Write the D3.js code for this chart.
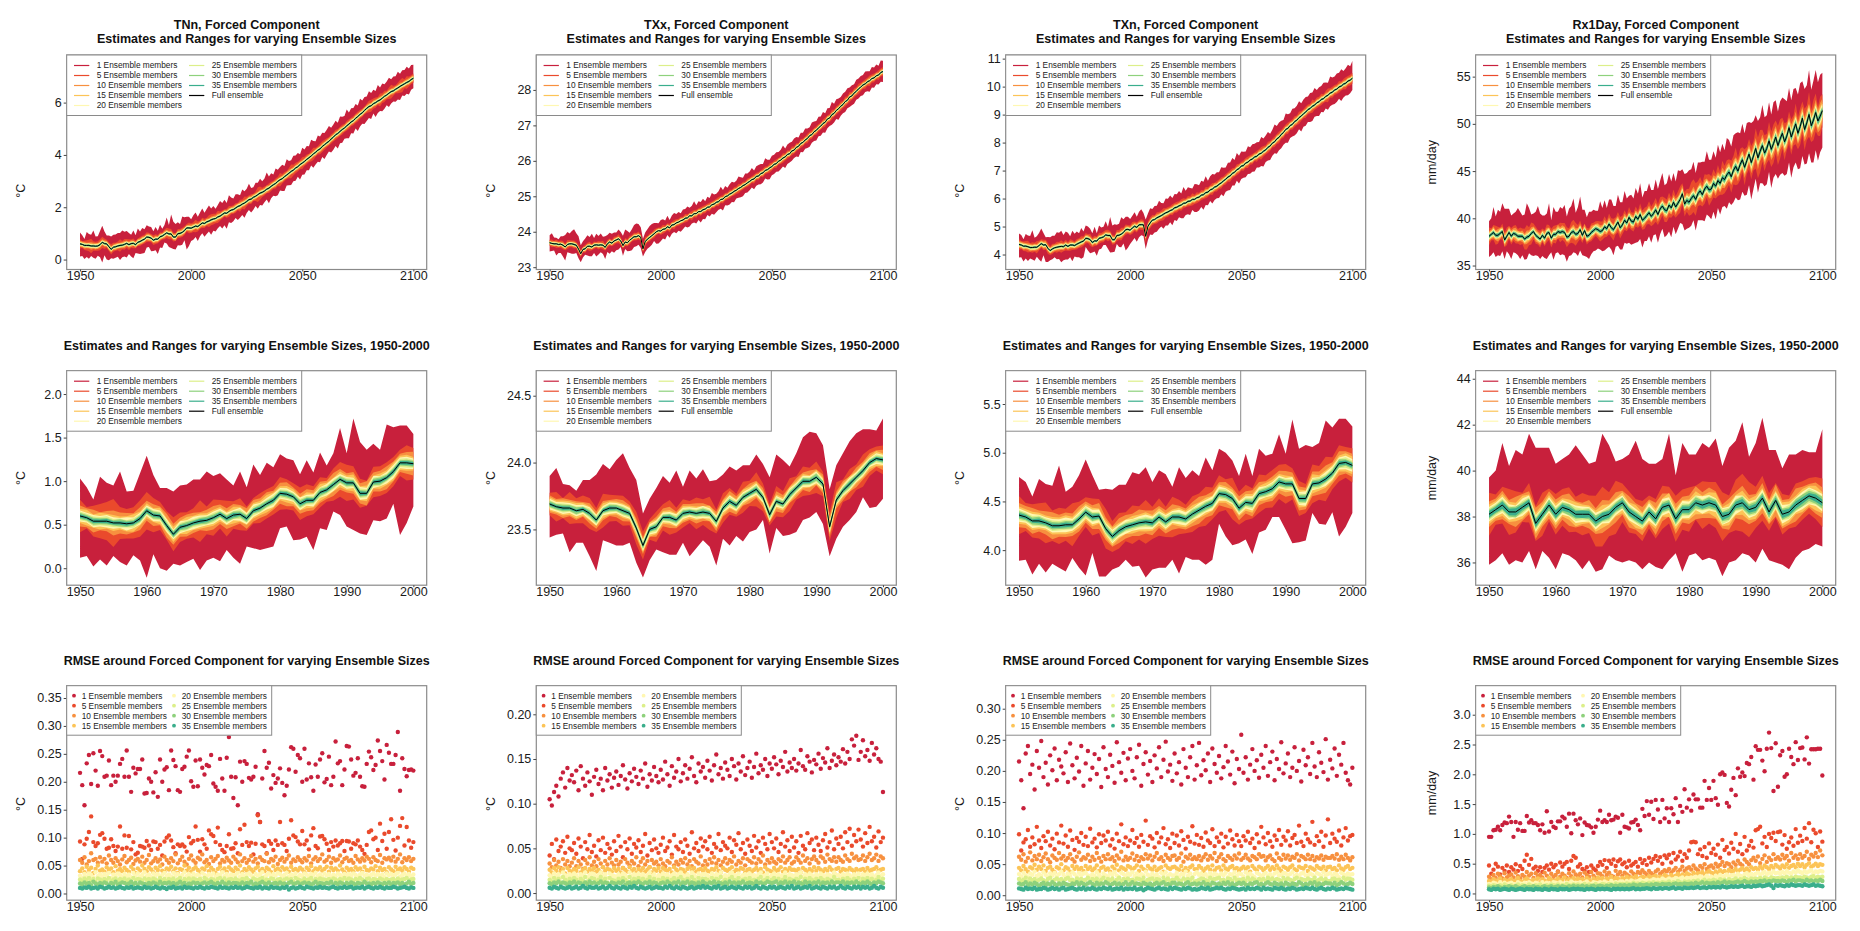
<!DOCTYPE html>
<html>
<head>
<meta charset="utf-8">
<script src="https://cdn.jsdelivr.net/npm/d3@7"></script>
<style>
  body { margin: 0; background: #fff; }
  svg text { font-family: "Liberation Sans", Arial, sans-serif; }
</style>
</head>
<body>
<svg id="chart" width="1860" height="931"></svg>
<script>
// ---------- categories / ticks ----------
const years = d3.range(1950, 2101);
const sizes = [1, 5, 10, 15, 20, 25, 30, 35];
const sizeColors = ["#c8203c", "#ea4a2c", "#f7903f", "#fcc457", "#fff7b2", "#dcef8a", "#8ed17c", "#3aae8c"];
const bandFactor = 2; // range of n-member estimates ~ +/- 2 RMSE
const xTicksFull = [1950, 2000, 2050, 2100];
const xTicksZoom = [1950, 1960, 1970, 1980, 1990, 2000];

// ---------- TNn (mean/up/lo in 0.01 °C, rmse in 0.001 °C) ----------
const tnnMean = [60,58,54,54,54,52,52,51,52,57, 66,61,60,49,39,47,49,52,54,55, 58,62,57,61,62,57,66,69,74,78,
  86,85,82,74,78,78,87,90,96,102, 98,98,86,86,99,100,104,111,121,121, 120,
  124,128,126,133,140,138,144,147,152,155, 157,163,166,172,178,177,184,189,191,197, 203,206,212,216,222,229,231,238,242,248,
  254,257,262,269,273,280,286,291,299,305, 309,317,323,330,337,342,350,355,363,369, 375,383,389,396,404,410,418,423,432,439,
  446,452,461,468,477,482,490,497,503,511, 518,526,531,540,547,555,561,570,578,585, 588,596,600,606,610,617,624,629,636,642,
  645,651,656,662,667,672,677,681,688,693];
const tnnUp1 = [43,35,25,51,44,43,59,37,37,52, 63,46,32,43,49,48,47,50,48,56, 48,47,45,34,49,36,53,38,47,38,
  45,41,42,34,46,32,46,28,36,59, 34,74,59,50,44,36,61,51,43,43, 34,
  45,52,38,47,55,41,49,60,43,50, 37,46,58,44,51,39,62,48,42,53, 47,40,56,45,49,61,43,38,52,46, 55,42,48,64,45,50,39,57,44,49,
  53,41,60,47,43,55,48,52,40,58, 46,51,44,62,49,42,56,47,53,45, 50,59,43,48,54,41,57,49,46,63, 44,52,48,55,42,60,47,51,45,58,
  49,53,44,61,48,56,46,52,59,47, 55,50,62,48,57,53,60,49,56,52];
const tnnLo1 = [48,44,52,44,51,38,45,48,37,48, 77,45,60,52,34,44,42,41,56,46, 46,54,36,49,57,32,43,48,51,53,
  40,37,50,41,42,57,41,46,31,41, 50,54,46,48,44,46,47,37,83,69, 49,
  48,42,55,44,39,51,46,40,57,45, 50,43,38,53,47,59,41,49,45,38, 52,46,42,56,44,40,51,48,37,54, 45,50,43,39,58,46,42,49,53,41,
  47,55,40,46,52,43,49,38,57,45, 50,42,48,36,53,47,44,51,40,55, 46,39,52,48,43,57,45,50,41,47, 54,43,49,39,56,46,42,52,48,44,
  51,38,55,46,42,50,47,39,53,45, 41,48,44,52,40,47,43,50,39,38];
const tnnRmse1 = [216,194,158,233,248,196,251,220,193,255, 246,209,211,238,194,211,200,211,232,241, 209,256,209,182,225,215,223,223,240,179,
  180,206,200,181,217,173,240,200,222,226, 185,256,239,228,185,182,223,227,245,256, 201,191,238,192,240,225,213,230,228,248,
  197,191,184,241,206,184,243,280,209,171, 208,158,236,200,237,232,207,204,209,227, 142,128,206,255,225,234,188,212,198,206,
  224,198,176,193,222,262,259,218,248,242, 200,259,204,233,208,184,231,209,240,251, 199,205,245,194,209,272,233,237,194,222,
  264,263,240,211,216,242,209,192,191,232, 254,244,221,230,274,255,237,204,266,252, 232,232,248,289,184,242,223,210,221,222, 220];
const tnnRmse5 = [93,62,88,98,110,138,92,85,90,105, 108,98,80,82,97,85,76,84,120,80, 104,82,103,79,92,70,73,85,84,82,
  94,86,78,93,92,80,87,68,93,100, 104,95,83,72,88,85,88,84,75,101, 90,94,120,96,75,97,88,80,113,106,
  103,92,118,87,78,74,85,106,80,81, 90,72,115,87,123,92,85,91,70,89, 140,128,88,85,72,94,89,78,95,87,
  128,90,87,76,98,131,104,101,93,88, 112,88,95,79,104,117,85,81,102,103, 97,89,78,92,84,95,86,90,94,76,
  94,93,80,90,88,95,84,78,71,87, 110,113,97,100,78,125,94,107,80,110, 133,96,77,100,121,135,86,119,95,82, 92];
const tnnRmse10 = [60,55,65,52,58,72,60,62,55,65, 57,62,54,68,60,55,63,58,52,61, 67,56,60,64,53,59,62,57,66,55,
  60,69,54,58,63,57,61,52,66,60, 55,63,58,70,54,60,66,57,52,62, 68,59,55,64,61,70,56,60,53,65,
  58,62,67,54,60,57,64,59,55,66, 61,56,70,58,63,55,60,67,57,62, 54,65,60,58,71,56,62,59,66,53,
  60,64,57,62,68,55,61,58,65,60, 56,63,59,67,54,61,65,58,62,70, 57,60,66,55,63,59,61,68,56,62,
  64,58,60,55,67,61,57,63,59,66, 62,56,65,60,58,69,55,63,61,64, 59,66,57,62,70,56,63,60,65,58, 62];
const tnnRmse15 = [40,45,38,48,42,46,37,44,50,41, 43,39,47,42,45,38,49,41,44,40, 46,42,39,48,43,37,45,41,50,44,
  40,47,43,38,46,42,49,41,39,45, 43,48,40,45,37,44,42,50,41,46, 39,44,47,42,38,45,43,49,40,46,
  42,37,44,48,41,45,39,47,43,40, 46,42,50,38,44,41,47,43,39,45, 48,41,44,40,46,43,38,49,42,45,
  40,47,43,45,39,48,42,44,41,46, 43,38,46,42,49,40,45,43,47,41, 44,48,39,46,42,45,41,50,43,38,
  46,42,44,40,47,43,45,39,48,42, 41,45,43,49,40,46,42,44,38,47, 43,40,48,42,45,41,47,44,39,46, 44];
const tnnRmse20 = [32,28,35,30,36,33,29,38,31,34, 30,35,32,37,28,34,31,36,33,29, 35,31,34,29,37,32,36,30,33,38,
  31,34,29,36,32,35,30,33,37,31, 34,30,37,32,35,29,33,38,31,35, 30,36,32,34,29,37,33,31,35,32,
  36,30,34,33,38,31,35,29,34,32, 33,37,30,35,31,34,36,32,29,35, 32,34,38,30,33,36,31,35,32,37,
  35,31,33,37,30,34,32,36,29,33, 31,36,34,30,35,33,37,31,34,30, 36,32,35,29,34,31,36,33,30,35,
  32,35,31,36,33,30,34,37,32,34, 30,33,36,32,35,31,34,29,36,33, 35,31,34,37,30,33,36,32,35,31, 34];
const tnnRmse25 = [25,22,27,24,28,23,26,21,27,25, 23,26,24,28,22,25,27,23,26,24, 27,23,25,22,28,24,26,25,23,27,
  24,26,22,27,25,23,28,24,26,22, 26,24,27,23,25,28,22,26,24,27, 23,27,25,24,26,22,28,25,23,26,
  25,22,26,28,24,27,23,25,26,24, 27,24,23,26,25,28,24,22,27,25, 24,26,28,23,25,24,27,26,22,25,
  26,23,25,27,24,26,22,28,25,24, 23,27,24,25,28,23,26,24,27,25, 25,24,26,22,27,25,23,26,24,28,
  24,27,25,23,26,24,28,25,22,26, 27,23,26,25,24,27,25,23,26,24, 25,26,23,27,24,25,26,28,24,25, 26];
const tnnRmse30 = [18,16,20,17,19,15,21,18,16,19, 17,20,18,15,19,17,21,16,18,20, 19,16,18,21,17,19,15,20,18,17,
  16,19,17,20,18,16,21,17,19,18, 20,17,19,16,18,21,17,19,15,18, 17,20,18,19,16,18,20,17,19,21,
  18,16,19,17,21,18,16,20,17,19, 19,18,16,20,17,19,18,21,16,18, 16,19,21,18,17,20,16,18,19,17,
  20,17,18,16,19,21,17,18,20,16, 18,20,17,19,16,18,21,17,19,18, 17,19,18,21,16,19,17,20,18,16,
  19,17,20,18,16,19,18,17,21,18, 18,16,19,17,20,18,16,19,17,20, 16,19,18,20,17,19,16,18,21,17, 19];
const tnnRmse35 = [10,9,11,10,12,9,10,11,9,12, 11,9,10,12,10,11,9,10,12,10, 9,11,10,12,9,10,11,10,9,12,
  10,11,9,10,12,10,9,11,10,8, 11,10,12,9,10,11,9,12,10,11, 10,9,11,10,12,10,9,11,10,12,
  11,10,9,12,10,11,10,9,11,10, 12,10,11,9,10,12,11,10,9,11, 10,12,9,11,10,9,12,10,11,10,
  9,11,10,12,7,10,11,9,10,12, 10,9,12,11,10,9,11,10,12,10, 11,10,9,11,12,10,9,11,10,12,
  10,11,12,9,10,11,10,12,9,11, 12,10,9,11,10,12,10,9,11,10, 10,12,11,9,10,11,12,10,9,11, 10];

// ---------- TXx (mean/up/lo in 0.01 °C, rmse in 0.001 °C) ----------
const txxMean = [2369,2367,2366,2366,2364,2365,2362,2357,2364,2366, 2366,2364,2362,2351,2338,2350,2352,2359,2359,2357,
  2362,2363,2362,2363,2362,2356,2366,2371,2368,2374, 2377,2380,2374,2361,2371,2369,2376,2381,2386,2386,
  2389,2384,2352,2372,2379,2384,2389,2394,2400,2403, 2402,
  2407,2408,2414,2411,2419,2420,2425,2427,2431,2433, 2438,2439,2445,2445,2451,2451,2457,2457,2462,2464,
  2469,2470,2476,2478,2483,2485,2491,2492,2499,2501, 2506,2509,2514,2517,2522,2525,2530,2533,2538,2542,
  2547,2549,2556,2557,2564,2566,2573,2575,2580,2584, 2590,2592,2599,2602,2608,2611,2618,2620,2628,2630,
  2638,2641,2649,2652,2659,2663,2671,2674,2682,2686, 2693,2698,2705,2709,2718,2721,2730,2734,2742,2747,
  2754,2759,2767,2771,2780,2783,2791,2796,2803,2808, 2814,2817,2823,2826,2832,2834,2840,2842,2849,2852];
const txxUp1 = [21,29,18,17,15,22,25,34,35,29, 36,43,34,36,24,23,29,31,26,37, 20,31,26,32,24,31,25,26,26,24,
  21,26,25,28,35,33,21,26,33,37, 33,29,28,26,28,32,33,31,25,21, 31,
  28,24,31,22,27,33,25,29,21,30, 26,32,23,28,35,24,29,27,31,22, 30,25,33,27,24,29,36,26,30,23, 28,32,25,27,34,29,22,31,26,28,
  33,24,29,31,27,25,34,28,23,30, 27,32,26,29,35,24,28,31,26,33, 29,25,30,27,32,28,24,34,29,26, 31,27,33,25,30,28,36,27,32,29,
  26,31,28,34,27,30,25,33,29,31, 28,35,30,27,33,29,32,26,34,30];
const txxLo1 = [25,21,19,33,24,25,32,38,22,26, 28,26,22,26,24,23,17,26,28,26, 22,33,26,21,25,33,23,33,23,33,
  29,30,17,29,20,24,30,33,29,27, 26,30,22,29,27,27,26,20,34,36, 29,
  26,30,23,28,25,21,29,24,31,26, 23,27,30,22,25,28,24,31,26,29, 22,27,25,30,28,23,26,32,24,27, 29,25,31,23,26,28,30,24,27,25,
  22,29,26,24,30,27,23,28,32,25, 27,23,29,26,24,31,27,25,28,22, 26,30,24,28,25,27,31,23,26,29, 24,27,25,30,26,23,28,26,24,31,
  27,25,29,23,28,26,30,24,27,25, 29,23,27,31,25,28,24,27,26,30];
const txxRmse1 = [105,98,113,120,108,128,135,118,140,126, 132,124,137,115,142,128,120,135,125,110, 130,138,122,128,115,140,126,133,118,129,
  136,121,131,143,127,117,134,125,139,130, 122,137,128,145,119,133,126,141,131,124, 138,127,147,133,120,142,129,136,150,125,
  134,143,128,139,152,131,124,145,136,141, 129,148,137,126,143,155,133,140,128,146, 138,131,150,142,127,145,136,153,132,140,
  147,129,141,156,134,143,138,150,131,145, 139,152,144,133,148,141,158,136,146,140, 150,137,145,160,142,138,153,147,135,149,
  144,156,139,151,146,162,140,148,155,143, 152,147,161,145,158,150,172,165,176,149, 158,171,153,160,148,168,155,162,150,147, 113];
const txxRmse5 = [42,55,38,60,47,52,58,45,63,50, 48,56,44,61,52,39,57,49,65,46, 53,41,59,48,62,45,55,50,43,58,
  47,64,52,40,57,49,61,44,55,51, 59,46,53,66,42,56,48,60,50,45, 54,62,47,51,58,43,65,52,49,57,
  46,60,53,44,68,50,56,47,61,52, 58,49,63,45,55,51,66,48,57,53, 50,62,46,59,54,67,49,56,44,60,
  53,47,64,51,58,45,62,55,49,66, 57,50,61,46,55,68,52,59,47,63, 51,58,45,64,53,49,67,56,60,48,
  62,54,47,59,66,51,57,70,49,61, 55,63,50,68,57,72,53,65,58,71, 60,52,67,56,74,58,63,51,69,57, 62];
const txxRmse10 = [33,29,37,31,35,28,38,32,36,30, 34,39,30,36,32,27,37,33,40,31, 35,30,38,33,29,36,32,39,34,31,
  37,32,35,28,38,34,31,36,33,40, 30,35,39,32,36,29,37,33,35,31, 38,33,30,36,34,40,31,35,32,37,
  34,39,32,36,30,38,35,33,41,31, 36,32,38,34,40,33,37,31,35,39, 33,37,35,41,32,36,34,39,31,38,
  36,34,40,33,38,35,42,32,37,34, 39,35,33,38,36,41,34,37,40,33, 35,40,37,34,42,36,39,33,38,41,
  37,34,41,39,35,43,38,36,40,35, 40,37,35,42,38,36,44,39,41,37, 38,42,36,40,44,37,39,43,36,41, 39];
const txxRmse15 = [26,23,28,25,29,24,27,22,28,25, 24,27,25,29,23,26,28,24,27,25, 28,24,26,23,29,25,27,26,24,28,
  25,27,23,28,26,24,29,25,27,23, 27,25,28,24,26,29,23,27,25,28, 24,28,26,25,27,23,29,26,24,27,
  26,23,27,29,25,28,24,26,27,25, 28,25,24,27,26,29,25,23,28,26, 25,27,29,24,26,25,28,27,23,26,
  27,24,26,28,25,27,23,29,26,25, 24,28,25,26,29,24,27,25,28,26, 26,25,27,23,28,26,24,27,25,29,
  25,28,26,24,27,25,29,26,23,27, 28,24,27,26,25,28,26,24,27,25, 26,27,24,28,25,26,27,29,25,26, 27];
const txxRmse20 = [20,18,22,19,21,17,23,20,18,21, 19,22,20,17,21,19,23,18,20,22, 21,18,20,23,19,21,17,22,20,19,
  18,21,19,22,20,18,23,19,21,20, 22,19,21,18,20,23,19,21,17,20, 19,22,20,21,18,20,22,19,21,23,
  20,18,21,19,23,20,18,22,19,21, 21,20,18,22,19,21,20,23,18,20, 18,21,23,20,19,22,18,20,21,19,
  22,19,20,18,21,23,19,20,22,18, 20,22,19,21,18,20,23,19,21,20, 19,21,20,23,18,21,19,22,20,18,
  21,19,22,20,18,21,20,19,23,20, 20,18,21,19,22,20,18,21,19,22, 18,21,20,22,19,21,18,20,23,19, 21];
const txxRmse25 = [15,13,17,14,16,12,18,15,13,16, 14,17,15,12,16,14,18,13,15,17, 16,13,15,18,14,16,12,17,15,14,
  13,16,14,17,15,13,18,14,16,15, 17,14,16,13,15,18,14,16,12,15, 14,17,15,16,13,15,17,14,16,18,
  15,13,16,14,18,15,13,17,14,16, 16,15,13,17,14,16,15,18,13,15, 13,16,18,15,14,17,13,15,16,14,
  17,14,15,13,16,18,14,15,17,13, 15,17,14,16,13,15,18,14,16,15, 14,16,15,18,13,16,14,17,15,13,
  16,14,17,15,13,16,15,14,18,15, 15,13,16,14,17,15,13,16,14,17, 13,16,15,17,14,16,13,15,18,14, 16];
const txxRmse30 = [11,10,12,11,13,10,12,11,9,12, 11,13,10,12,11,9,12,10,13,11, 12,10,11,13,10,12,11,9,12,11,
  10,12,11,13,9,11,12,10,12,11, 13,11,10,12,11,13,10,12,11,9, 11,12,10,13,11,10,12,11,13,10,
  12,11,13,10,12,11,9,12,10,13, 11,10,12,11,13,10,12,11,10,12, 10,13,11,12,10,12,11,13,10,11,
  12,11,10,13,11,12,10,11,13,12, 11,12,13,10,12,11,13,10,12,11, 13,10,12,11,10,13,11,12,10,12,
  11,13,10,12,11,12,10,13,11,12, 12,11,13,10,12,11,12,10,13,11, 10,12,11,13,11,10,12,11,13,12, 11];
const txxRmse35 = [6,5,7,6,5,7,6,5,6,7, 5,6,7,5,6,8,6,5,7,6, 6,7,5,6,7,5,6,8,6,5,
  7,6,5,7,6,5,7,6,8,6, 5,7,6,5,6,7,5,6,7,6, 6,5,7,6,8,6,5,7,6,5,
  7,6,5,6,7,5,6,7,6,8, 6,7,6,5,7,6,8,5,6,7, 5,6,7,6,5,7,6,5,7,6,
  7,5,6,8,6,5,7,6,5,7, 6,7,5,6,7,6,5,7,6,8, 5,6,7,5,6,7,6,8,5,6,
  7,6,5,7,6,5,7,6,7,5, 6,8,6,5,7,6,5,7,6,7, 5,7,6,7,5,6,8,6,5,7, 6];

// ---------- TXn (mean/up/lo in 0.01 °C, rmse in 0.001 °C) ----------
const txnMean = [436,434,430,430,428,425,425,426,426,432, 439,434,435,422,414,420,424,426,428,429,
  428,434,429,434,434,432,437,441,445,448, 458,457,453,443,449,448,458,460,463,470,
  468,468,453,453,468,469,473,479,489,490, 487,
  495,501,497,506,507,506,465,501,513,523, 525,531,535,539,544,549,552,557,560,567,
  569,574,577,583,584,590,591,597,597,603, 605,612,614,621,623,631,634,641,644,651,
  656,663,669,677,681,690,694,703,707,716, 718,727,730,738,741,749,751,759,762,769,
  774,783,788,798,803,813,819,829,836,847, 851,861,865,875,880,889,895,903,909,918,
  922,930,934,942,946,954,957,965,969,977, 980,988,991,999,1002,1009,1012,1020,1023,1030];
const txnUp1 = [39,36,25,43,40,41,62,34,39,45, 54,43,27,41,48,47,43,54,50,56, 42,48,49,31,51,42,45,35,50,34,
  46,43,39,33,50,28,46,37,36,49, 31,66,51,55,38,41,60,47,46,45, 40,
  44,50,38,47,55,42,60,46,52,40, 48,43,57,45,39,51,47,54,42,49, 46,53,41,58,44,50,47,39,55,48, 43,52,46,59,41,49,54,45,50,43,
  56,47,42,51,48,55,44,60,46,52, 49,41,57,45,53,47,50,43,58,46, 51,55,44,48,62,46,53,49,45,57, 50,44,56,48,52,59,46,51,54,47,
  55,49,61,46,52,48,57,50,45,59, 53,48,56,51,60,47,54,58,50,62];
const txnLo1 = [47,44,55,44,51,39,43,48,34,50, 65,37,62,49,34,37,34,43,44,57, 48,52,47,44,58,39,47,51,60,58,
  31,43,48,36,38,52,40,39,29,36, 47,61,45,43,30,42,47,40,75,66, 49,
  47,42,51,44,38,40,45,49,41,53, 46,50,43,39,52,45,48,42,55,44, 49,41,47,53,43,46,50,38,45,51, 48,42,54,44,47,40,52,46,43,49,
  41,55,45,48,50,43,47,39,53,46, 44,51,42,49,45,52,40,48,46,54, 43,47,50,45,41,53,46,49,44,48, 52,45,43,50,47,41,55,46,49,44,
  48,53,42,47,51,45,49,43,52,47, 45,50,46,42,53,48,44,51,47,42];
const txnRmse1 = [215,185,140,228,240,195,210,170,232,205, 248,190,213,178,225,201,236,185,218,207, 196,230,182,244,209,188,221,199,240,176,
  212,232,186,205,227,195,219,174,238,203, 190,226,208,181,246,214,197,229,185,220, 235,200,188,222,242,176,211,230,194,216,
  182,225,204,238,190,218,247,199,210,184, 228,196,214,178,235,205,190,222,240,186, 209,245,193,217,201,228,182,236,211,197,
  224,188,206,240,215,194,231,180,219,203, 258,197,222,186,210,235,200,217,189,226, 205,240,192,214,231,185,219,203,246,196,
  212,228,190,205,238,200,216,183,234,209, 222,195,245,207,190,230,213,198,251,186, 218,204,236,192,226,210,245,197,185,178, 205];
const txnRmse5 = [98,72,85,90,105,78,93,82,110,88, 76,95,87,102,80,91,74,99,85,112, 83,96,78,104,89,73,92,86,100,81,
  94,79,107,85,91,77,98,84,96,88, 102,80,90,75,99,87,114,82,93,79, 88,105,84,92,78,97,86,120,81,95,
  91,77,100,85,93,108,82,90,76,99, 84,96,80,103,89,75,94,86,111,83, 97,81,92,78,101,88,84,106,79,93,
  86,99,77,94,83,104,90,80,97,87, 79,95,88,102,84,91,76,98,85,110, 93,82,100,87,78,96,89,105,81,94,
  88,103,80,92,97,84,112,86,79,99, 90,85,118,81,95,87,102,78,96,122, 84,99,91,86,104,80,93,108,88,95, 97];
const txnRmse10 = [62,57,66,54,60,69,56,63,58,65, 55,61,67,58,53,64,60,57,68,59, 63,56,60,66,58,54,62,69,57,61,
  59,65,55,62,57,68,60,54,63,58, 66,58,61,55,64,59,70,56,62,57, 60,67,57,63,55,61,58,66,59,64,
  56,62,68,58,61,55,65,60,57,63, 64,57,60,67,54,62,59,65,58,61, 58,63,56,61,66,57,63,59,68,55,
  61,66,58,55,63,60,57,64,59,67, 57,60,65,59,56,63,61,58,66,62, 63,56,61,64,58,55,67,60,57,65,
  59,64,57,62,60,66,56,63,61,58, 65,58,63,56,61,59,64,57,62,60, 60,63,59,66,57,62,58,65,60,56, 61];
const txnRmse15 = [44,40,47,42,38,45,43,49,41,46, 42,48,39,44,46,41,37,45,43,50, 40,45,43,38,47,42,46,41,44,39,
  47,42,45,40,43,48,39,44,46,41, 43,38,46,42,49,40,45,43,41,47, 45,41,44,48,39,46,42,40,47,43,
  41,46,40,43,45,38,48,44,42,45, 46,43,41,47,40,44,39,45,48,42, 42,47,44,39,43,46,41,48,40,44,
  45,40,48,43,41,45,47,42,44,39, 43,46,42,45,38,47,43,40,46,44, 40,44,47,41,45,42,48,43,39,46,
  44,41,45,48,42,40,46,44,43,47, 39,45,43,41,47,44,42,46,40,45, 46,42,44,40,48,43,41,45,47,42, 44];
const txnRmse20 = [34,30,36,32,29,35,33,38,31,34, 31,37,33,29,35,32,36,30,34,38, 33,29,35,31,37,34,30,36,32,35,
  36,32,30,34,31,37,33,29,35,32, 30,35,33,37,32,29,36,34,31,35, 33,37,31,35,30,34,32,38,33,30,
  35,31,34,29,36,33,37,31,34,32, 32,36,30,34,33,38,31,35,29,34, 37,33,35,31,34,30,36,32,35,33,
  31,35,32,36,29,34,33,37,31,35, 34,30,37,33,35,32,29,36,34,31, 33,36,31,34,30,35,37,32,33,36,
  35,32,34,37,31,33,30,35,36,32, 32,35,33,30,36,34,31,37,32,34, 36,31,35,33,29,36,34,32,35,33, 34];
const txnRmse25 = [26,23,25,28,22,27,24,26,23,25, 27,24,22,26,28,23,25,27,24,26, 23,26,28,24,25,22,27,25,26,24,
  25,28,23,26,24,27,22,25,28,23, 26,24,27,22,25,28,23,26,24,27, 24,25,23,27,26,24,28,22,25,26,
  27,23,26,25,22,28,24,27,23,25, 25,28,24,23,27,25,26,24,28,22, 23,25,27,26,24,23,28,25,26,27,
  28,24,25,22,27,26,23,28,24,25, 25,26,23,28,24,27,25,22,26,24, 26,23,28,25,27,24,26,25,23,28,
  24,27,25,23,26,28,22,26,25,24, 27,25,24,28,23,25,27,24,26,23, 23,26,27,24,25,22,28,25,27,26, 25];
const txnRmse30 = [19,17,18,21,16,19,17,20,18,15, 18,20,16,19,17,21,18,16,19,17, 20,18,17,16,19,18,21,17,20,18,
  17,19,21,18,16,20,17,19,18,21, 19,16,18,20,17,19,16,18,21,17, 18,21,17,19,18,16,20,18,17,19,
  16,18,20,17,19,21,17,18,16,20, 20,17,19,18,16,19,21,17,18,19, 17,19,18,21,17,18,16,20,19,17,
  19,16,20,18,21,17,19,16,18,20, 18,20,17,16,19,18,20,21,17,18, 16,19,21,18,17,20,18,17,19,16,
  20,18,16,19,18,17,21,19,16,18, 17,20,18,21,16,19,17,18,20,19, 19,17,20,16,18,21,19,17,18,20, 18];
const txnRmse35 = [11,10,9,12,10,11,10,12,9,10, 10,12,11,9,10,12,10,11,9,11, 12,9,10,11,12,10,9,11,10,12,
  9,11,10,12,10,9,11,10,12,11, 10,12,9,10,11,10,12,9,11,10, 11,10,12,9,10,11,8,10,12,11,
  10,9,11,12,10,11,10,9,12,10, 12,11,10,9,11,10,12,11,9,10, 9,10,12,11,10,12,9,10,11,12,
  11,12,10,9,11,10,12,11,10,9, 10,11,9,12,10,11,10,12,11,9, 12,10,11,10,9,12,11,10,12,10,
  9,11,10,12,11,9,10,11,10,12, 11,10,12,10,9,11,12,10,9,11, 10,12,11,9,10,11,10,12,11,10, 9];

// ---------- Rx1Day (mean/up/lo in 0.1 mm/day, rmse in 0.01 mm/day) ----------
const rxMean = [381,383,385,382,382,384,386,377,381,385, 381,384,383,381,381,381,378,380,381,384,
  386,382,380,378,382,379,384,385,379,383, 383,386,385,386,385,380,381,385,386,383,
  384,388,382,387,381,382,385,387,389,388, 386,
  387,391,389,394,390,388,392,396,390,393, 398,395,401,397,396,402,399,404,398,400,
  403,406,402,405,409,404,410,413,409,408, 414,411,417,412,416,420,426,415,419,417,
  421,424,420,426,429,425,431,434,430,431, 437,434,440,437,443,441,446,449,444,451,
  455,450,457,462,454,461,468,459,466,474, 464,471,477,469,474,482,473,479,486,477,
  484,490,481,487,496,486,493,500,490,497, 506,494,501,510,498,504,512,503,508,514];
const rxUp1 = [16,17,27,20,27,23,30,33,29,25, 22,21,24,30,26,22,26,36,30,20, 19,25,33,27,21,24,21,31,19,29,
  24,21,27,24,29,22,29,28,35,23, 28,35,27,22,20,25,22,22,19,20, 32,
  24,28,22,26,30,25,21,29,27,24, 31,26,23,28,25,30,27,33,24,29, 26,31,28,25,32,27,30,35,26,29, 33,28,31,27,35,30,26,32,29,34,
  31,36,28,33,30,35,29,37,32,31, 34,30,38,33,36,31,39,34,32,37, 35,41,33,38,36,40,34,42,37,35, 39,36,43,38,35,41,37,44,39,36,
  40,38,45,37,42,39,44,38,41,46, 39,43,40,47,38,42,45,41,44,40];
const rxLo1 = [22,22,21,23,21,24,21,20,16,23, 24,20,20,20,24,20,22,23,18,23, 26,21,20,21,22,21,27,24,15,27,
  20,22,24,24,24,26,21,24,22,20, 24,22,21,27,22,25,23,22,23,20, 19,
  22,25,21,24,23,27,22,25,23,26, 24,22,27,25,23,28,24,26,29,24, 27,25,28,23,26,30,27,24,29,26, 28,31,26,29,27,25,32,28,30,27,
  29,26,33,28,31,27,34,30,28,32, 30,35,29,33,31,28,36,32,30,34, 33,31,37,34,30,36,33,39,35,32, 37,34,40,35,38,33,41,36,39,35,
  38,42,36,40,37,43,39,41,38,44, 40,37,43,41,39,45,40,42,38,39];
const rxRmse1 = [95,95,106,107,112,106,115,119,118,129, 120,95,120,107,118,105,105,130,119,123, 118,118,115,106,116,102,138,104,120,112,
  110,121,121,129,126,112,134,101,134,123, 116,126,98,119,115,114,111,102,112,124, 139,120,123,120,132,123,124,129,127,102,
  132,112,111,109,119,120,124,115,106,142, 130,155,132,154,125,157,141,120,157,126, 143,120,143,133,160,120,147,137,175,144,
  158,139,166,158,158,144,144,189,157,177, 157,189,160,149,200,203,199,152,146,174, 194,165,210,196,203,197,219,217,229,191,
  247,241,241,223,205,243,270,244,172,252, 179,232,239,196,200,243,229,217,254,224, 244,245,225,262,218,242,242,242,243,243, 198];
const rxRmse5 = [47,33,40,50,45,32,43,38,47,36, 44,40,49,38,46,41,55,65,48,58, 42,45,38,44,36,43,47,40,50,44,
  48,37,52,45,50,53,41,55,63,60, 45,49,41,38,44,36,47,42,39,46, 53,48,56,43,55,50,57,46,54,57,
  49,52,44,55,47,50,53,45,58,51, 56,48,60,52,58,63,55,61,50,64, 59,65,52,68,57,62,70,55,66,60,
  72,86,87,86,66,74,63,78,60,84, 68,75,65,82,60,90,73,78,67,85, 75,100,70,83,66,95,72,80,88,77,
  106,108,112,84,95,78,100,93,102,88, 103,104,82,98,75,86,94,80,108,85, 97,88,110,92,118,86,107,101,78,104, 87];
const rxRmse10 = [28,24,31,26,33,29,25,34,27,30, 32,27,35,29,25,31,28,36,30,33, 26,34,29,31,27,35,30,25,33,28,
  31,36,28,33,30,26,34,29,37,32, 29,33,27,35,31,28,36,30,26,34, 33,29,37,31,35,30,28,38,32,36,
  30,35,32,29,37,33,31,36,34,39, 35,32,38,34,31,37,40,33,36,39, 37,41,35,39,43,36,40,45,38,42,
  44,40,47,42,39,46,43,49,41,45, 47,43,50,45,48,53,46,51,49,44, 52,48,55,50,47,57,53,49,56,60,
  55,62,51,58,64,53,60,56,66,58, 61,57,65,59,63,55,68,60,64,58, 66,60,63,70,58,65,62,68,61,72, 64];
const rxRmse15 = [21,19,24,22,20,25,18,23,21,22, 24,20,22,26,21,19,23,25,22,20, 23,21,25,19,24,22,20,26,23,21,
  22,25,20,23,27,21,24,22,26,23, 25,22,24,21,26,23,20,25,22,27, 23,26,22,25,24,28,23,26,25,22,
  26,24,28,23,27,25,29,24,26,28, 27,25,29,26,28,30,25,28,27,31, 29,27,31,28,30,33,29,32,30,34,
  32,30,35,31,34,33,36,32,35,38, 35,33,37,34,39,36,38,35,40,37, 38,41,37,40,43,39,42,38,44,41,
  43,40,45,42,47,44,41,46,43,48, 45,42,47,44,49,43,46,48,44,50, 46,49,44,48,51,45,47,50,46,49, 48];
const rxRmse20 = [16,15,18,17,14,19,16,18,15,17, 18,16,15,19,17,16,18,15,19,17, 16,18,17,15,19,16,18,17,16,19,
  18,16,19,17,15,18,17,20,16,18, 17,19,16,18,20,17,16,19,18,17, 19,17,20,18,17,21,18,19,17,20,
  20,18,21,19,22,20,19,21,23,20, 21,23,20,22,24,21,23,22,25,21, 23,25,22,24,26,23,25,27,24,26,
  25,27,24,28,26,29,25,27,30,26, 28,26,30,27,31,28,29,32,28,30, 31,29,33,30,28,32,34,30,33,31,
  33,35,31,34,36,32,35,33,37,34, 35,33,36,34,38,35,33,37,35,39, 36,34,38,35,37,39,34,37,36,38, 37];
const rxRmse25 = [13,12,14,13,11,14,12,15,13,12, 14,12,13,15,12,14,13,12,15,13, 12,14,13,15,12,13,14,12,15,14,
  13,15,12,14,13,16,14,13,15,14, 15,13,14,16,13,15,14,13,16,14, 14,16,15,13,16,15,14,17,15,16,
  16,15,17,16,15,18,16,17,15,18, 17,16,18,17,19,16,18,17,19,18, 18,20,17,19,18,21,19,18,20,19,
  20,19,21,20,22,19,21,23,20,22, 21,23,22,20,24,22,23,21,24,22, 23,25,22,24,23,26,24,22,25,24,
  25,24,26,23,27,25,24,27,26,25, 26,25,27,26,28,25,27,26,28,27, 27,26,28,27,25,28,29,26,28,27, 28];
const rxRmse30 = [10,9,11,10,12,10,9,11,10,12, 11,10,12,10,9,11,12,10,11,10, 12,10,11,9,11,12,10,11,12,10,
  11,12,10,12,11,10,12,11,13,11, 12,11,13,11,12,10,12,13,11,12, 13,12,11,13,12,14,12,13,12,14,
  13,14,12,14,13,15,14,13,15,14, 14,15,13,15,14,16,15,14,16,15, 15,16,14,16,17,15,16,15,17,16,
  16,17,15,18,16,17,19,16,18,17, 17,18,16,19,17,18,20,17,19,18, 18,19,20,18,19,21,19,18,20,19,
  20,19,21,20,22,19,21,20,22,21, 21,20,22,21,19,22,21,23,20,22, 22,21,20,23,21,22,20,22,21,23, 21];
const rxRmse35 = [7,6,8,7,8,6,7,8,7,6, 8,7,6,7,8,7,6,8,7,7, 6,8,7,7,6,8,7,6,8,7,
  7,6,8,7,7,8,6,7,8,7, 8,7,7,6,8,7,8,7,6,8, 7,8,7,8,7,6,8,7,8,7,
  8,7,8,7,8,9,7,8,7,8, 8,9,8,7,9,8,8,9,8,9, 9,8,9,10,8,9,9,8,10,9,
  9,10,9,10,11,9,10,10,9,11, 10,11,10,11,10,12,11,10,11,12, 11,12,11,12,13,11,12,12,11,13,
  12,13,14,12,13,14,15,13,9,14, 13,14,13,12,14,13,15,14,13,14, 14,13,15,14,13,14,15,13,14,13, 12];

// ---------- panel table built from the arrays ----------
const variables = [
  { name: "TNn", unit: "°C", meanDiv: 100, rmseDiv: 1000, mean: tnnMean, up1: tnnUp1, lo1: tnnLo1,
    rmse: [tnnRmse1, tnnRmse5, tnnRmse10, tnnRmse15, tnnRmse20, tnnRmse25, tnnRmse30, tnnRmse35],
    yLim: [[-0.38, 7.82], [-0.195, 2.268], [-0.012, 0.372]],
    yTicks: [[0, 2, 4, 6], [0, 0.5, 1, 1.5, 2], [0, 0.05, 0.1, 0.15, 0.2, 0.25, 0.3, 0.35]],
    yFmt: ["d", ".1f", ".2f"] },
  { name: "TXx", unit: "°C", meanDiv: 100, rmseDiv: 1000, mean: txxMean, up1: txxUp1, lo1: txxLo1,
    rmse: [txxRmse1, txxRmse5, txxRmse10, txxRmse15, txxRmse20, txxRmse25, txxRmse30, txxRmse35],
    yLim: [[22.935, 28.985], [23.083, 24.687], [-0.008, 0.232]],
    yTicks: [[23, 24, 25, 26, 27, 28], [23.5, 24, 24.5], [0, 0.05, 0.1, 0.15, 0.2]],
    yFmt: ["d", ".1f", ".2f"] },
  { name: "TXn", unit: "°C", meanDiv: 100, rmseDiv: 1000, mean: txnMean, up1: txnUp1, lo1: txnLo1,
    rmse: [txnRmse1, txnRmse5, txnRmse10, txnRmse15, txnRmse20, txnRmse25, txnRmse30, txnRmse35],
    yLim: [[3.465, 11.13], [3.64, 5.842], [-0.008, 0.337]],
    yTicks: [[4, 5, 6, 7, 8, 9, 10, 11], [4, 4.5, 5, 5.5], [0, 0.05, 0.1, 0.15, 0.2, 0.25, 0.3]],
    yFmt: ["d", ".1f", ".2f"] },
  { name: "Rx1Day", unit: "mm/day", meanDiv: 10, rmseDiv: 100, mean: rxMean, up1: rxUp1, lo1: rxLo1,
    rmse: [rxRmse1, rxRmse5, rxRmse10, rxRmse15, rxRmse20, rxRmse25, rxRmse30, rxRmse35],
    yLim: [[34.58, 57.29], [35.01, 44.35], [-0.113, 3.487]],
    yTicks: [[35, 40, 45, 50, 55], [36, 38, 40, 42, 44], [0, 0.5, 1, 1.5, 2, 2.5, 3]],
    yFmt: ["d", "d", ".1f"] }
];

// ---------- layout ----------
const svg = d3.select("#chart");
const colLeft = [66.7, 536.3, 1005.7, 1475.7];
const rowTop = [55, 370.7, 685.7];
const plotW = 360, plotH = 214.5;
const frameColor = "#8a8a8a";

function drawPanel(v, row, col) {
  const g = svg.append("g").attr("transform", `translate(${colLeft[col]},${rowTop[row]})`);
  const nYears = row === 1 ? 51 : 151;
  const idx = d3.range(nYears);
  const x = d3.scaleLinear().domain(row === 1 ? [1948, 2002] : [1944, 2106]).range([0, plotW]);
  const y = d3.scaleLinear().domain(v.yLim[row]).range([plotH, 0]);

  const clipId = `clip-${row}-${col}`;
  g.append("clipPath").attr("id", clipId).append("rect").attr("width", plotW).attr("height", plotH);
  const plot = g.append("g").attr("clip-path", `url(#${clipId})`);

  const m = i => v.mean[i] / v.meanDiv;

  if (row < 2) {
    sizes.forEach((n, k) => {
      const hi = k === 0 ? i => m(i) + v.up1[i] / v.meanDiv : i => m(i) + bandFactor * v.rmse[k][i] / v.rmseDiv;
      const lo = k === 0 ? i => m(i) - v.lo1[i] / v.meanDiv : i => m(i) - bandFactor * v.rmse[k][i] / v.rmseDiv;
      const area = d3.area()
        .defined(i => Number.isFinite(hi(i)) && Number.isFinite(lo(i)))
        .x(i => x(years[i])).y0(i => y(lo(i))).y1(i => y(hi(i)));
      plot.append("path").datum(idx).attr("fill", sizeColors[k]).attr("d", area);
    });
    const line = d3.line().defined(i => Number.isFinite(m(i))).x(i => x(years[i])).y(i => y(m(i)));
    plot.append("path").datum(idx).attr("fill", "none").attr("stroke", "#000").attr("stroke-width", 1).attr("d", line);
  } else {
    sizes.forEach((n, k) => {
      plot.append("g").selectAll("circle")
        .data(idx.filter(i => Number.isFinite(v.rmse[k][i])))
        .enter().append("circle")
        .attr("cx", i => x(years[i]))
        .attr("cy", i => y(v.rmse[k][i] / v.rmseDiv))
        .attr("r", 2.2)
        .attr("fill", sizeColors[k]);
    });
  }

  // frame
  g.append("rect").attr("width", plotW).attr("height", plotH)
    .attr("fill", "none").attr("stroke", frameColor).attr("stroke-width", 1.2);

  // axes
  const yAxis = d3.axisLeft(y).tickValues(v.yTicks[row]).tickFormat(d3.format(v.yFmt[row])).tickSize(3).tickPadding(2);
  const xAxis = d3.axisBottom(x).tickValues(row === 1 ? xTicksZoom : xTicksFull).tickFormat(d3.format("d")).tickSize(2).tickPadding(0);
  const ya = g.append("g").call(yAxis);
  const xa = g.append("g").attr("transform", `translate(0,${plotH})`).call(xAxis);
  [ya, xa].forEach(a => {
    a.select(".domain").remove();
    a.selectAll("line").attr("stroke", "#444");
    a.selectAll("text").attr("fill", "#1a1a1a").style("font-size", "12.5px");
  });

  // titles
  const titles = row === 0
    ? [`${v.name}, Forced Component`, "Estimates and Ranges for varying Ensemble Sizes"]
    : row === 1 ? ["Estimates and Ranges for varying Ensemble Sizes, 1950-2000"]
    : ["RMSE around Forced Component for varying Ensemble Sizes"];
  const titleY = row === 0 ? [-26.3, -11.8] : [-20.3];
  titles.forEach((t, j) => {
    g.append("text").attr("x", plotW / 2).attr("y", titleY[j]).attr("text-anchor", "middle")
      .style("font-size", "12.5px").style("font-weight", "bold").attr("fill", "#111").text(t);
  });

  // y label
  const labelShift = v.unit === "°C" ? [28.5, 0, 11][row] : 0;
  const labelX = v.unit === "°C" ? -46 : -44;
  g.append("text")
    .attr("transform", `translate(${labelX},${plotH / 2 + labelShift}) rotate(-90)`)
    .attr("text-anchor", "middle").attr("dy", "0.35em")
    .style("font-size", "12.5px").attr("fill", "#1a1a1a").text(v.unit);

  // legend
  const leg = g.append("g");
  if (row < 2) {
    leg.append("rect").attr("width", 235).attr("height", 60.5)
      .attr("fill", "#fff").attr("stroke", frameColor).attr("stroke-width", 1);
    const entries = sizes.map((n, k) => ({ label: `${n} Ensemble members`, color: sizeColors[k] }))
      .concat([{ label: "Full ensemble", color: "#000" }]);
    entries.forEach((e, k) => {
      const c = k < 5 ? 0 : 1, r = k < 5 ? k : k - 5;
      const ex = c === 0 ? 7.3 : 122.3, ey = 10.5 + 10 * r;
      leg.append("line").attr("x1", ex).attr("x2", ex + 15.3).attr("y1", ey).attr("y2", ey)
        .attr("stroke", e.color).attr("stroke-width", 1.2);
      leg.append("text").attr("x", ex + 22.7).attr("y", ey).attr("dy", "0.35em")
        .style("font-size", "8.3px").attr("fill", "#222").text(e.label);
    });
  } else {
    leg.append("rect").attr("width", 205).attr("height", 49.5)
      .attr("fill", "#fff").attr("stroke", frameColor).attr("stroke-width", 1);
    sizes.forEach((n, k) => {
      const c = k < 4 ? 0 : 1, r = k % 4;
      const ex = c === 0 ? 7.3 : 107.3, ey = 10 + 10 * r;
      leg.append("circle").attr("cx", ex).attr("cy", ey).attr("r", 1.9).attr("fill", sizeColors[k]);
      leg.append("text").attr("x", ex + 7.7).attr("y", ey).attr("dy", "0.35em")
        .style("font-size", "8.3px").attr("fill", "#222").text(`${n} Ensemble members`);
    });
  }
}

[0, 1, 2].forEach(row => variables.forEach((v, col) => drawPanel(v, row, col)));
</script>
</body>
</html>
